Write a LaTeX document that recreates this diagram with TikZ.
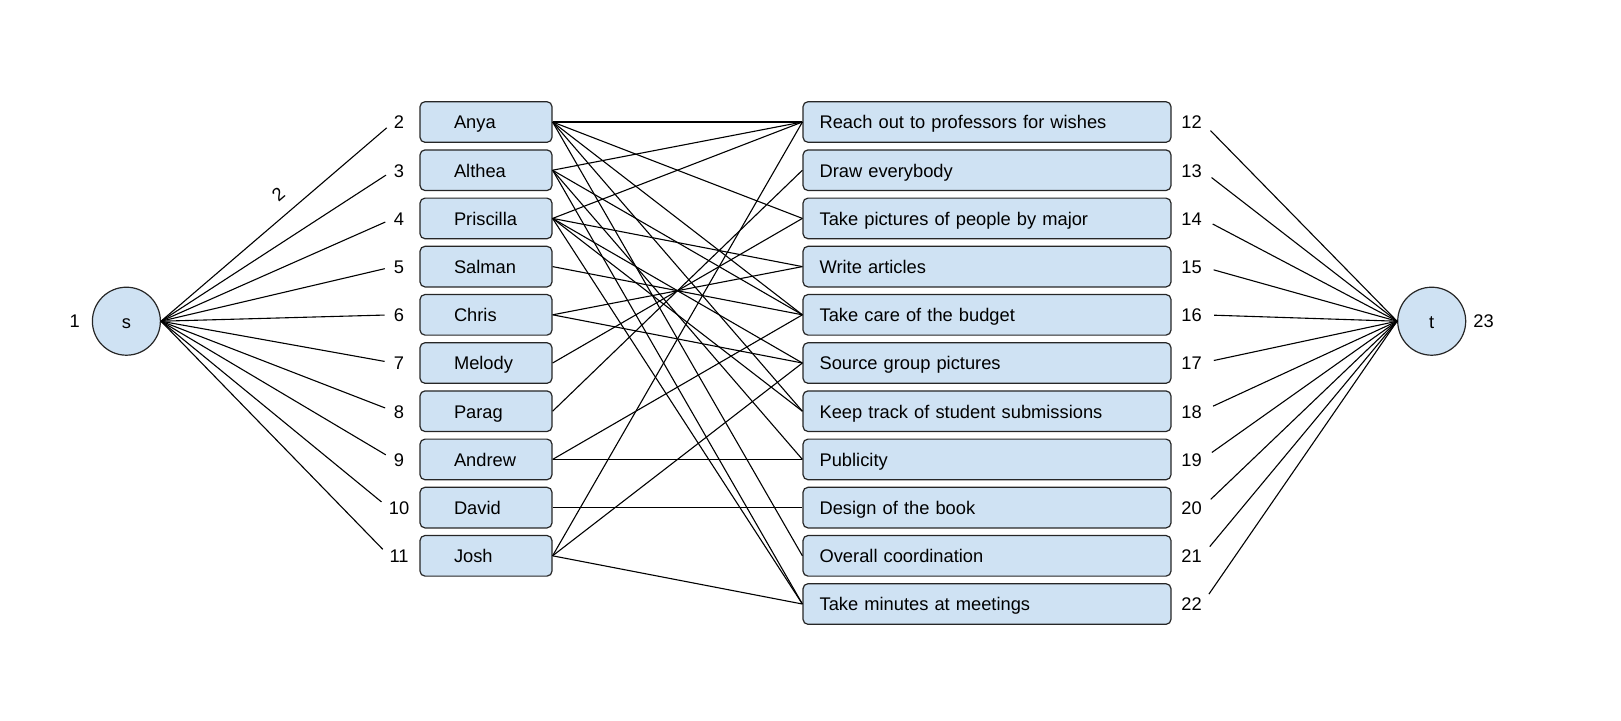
\documentclass[tikz,border=0pt]{standalone}
\usepackage{fontspec}
\setmainfont{Liberation Sans}
\definecolor{boxblue}{HTML}{CFE2F3}
\begin{document}
\begin{tikzpicture}[x=0.5pt,y=-0.5pt,
  every node/.style={font=\fontsize{9.15pt}{11pt}\selectfont, text height=0.905em, text depth=0.212em},
  box/.style={draw=black!85, line width=0.6pt, fill=boxblue, rounded corners=2.5pt,
              minimum height=20.3pt, inner xsep=0pt, align=left},
  pbox/.style={box, minimum width=66pt, text width=32pt},
  tbox/.style={box, minimum width=184pt, text width=167.4pt},
  vert/.style={draw=black!85, line width=0.6pt, fill=boxblue, circle, minimum size=34pt, inner sep=0pt},
  num/.style={inner sep=0pt},
  link/.style={draw=black, line width=0.55pt}]
\useasboundingbox (0,0) rectangle (1621,720);

\node[vert] (s) at (126.4,321.2) {s};
\node[vert] (t) at (1431.7,321.2) {t};
\node[num] (n1) at (74.6,321) {1};
\node[num] (n23) at (1483.6,321) {23};

\foreach \i/\name in {2/Anya,3/Althea,4/Priscilla,5/Salman,6/Chris,7/Melody,8/Parag,9/Andrew,10/David,11/Josh} {
  \node[pbox] (a\i) at (486,{122+48.2*(\i-2)}) {\name};
  \node[num] (n\i) at (399,{122+48.2*(\i-2)}) {\i};
}
\draw[link, shorten >=4.5pt] (s.east) -- node[pos=0.56, sloped, above=1pt] {2} (n2.west);
\foreach \i in {3,...,11}
  \draw[link, shorten >=4.5pt] (s.east) -- (n\i.west);

\foreach \i/\name in {12/Reach out to professors for wishes,13/Draw everybody,14/Take pictures of people by major,15/Write articles,16/Take care of the budget,17/Source group pictures,18/Keep track of student submissions,19/Publicity,20/Design of the book,21/Overall coordination,22/Take minutes at meetings} {
  \node[tbox] (b\i) at (987,{122+48.2*(\i-12)}) {\name};
  \node[num] (n\i) at (1191.5,{122+48.2*(\i-12)}) {\i};
  \draw[link, shorten <=6pt] (n\i.east) -- (t.west);
}

\foreach \a/\b in {2/12,2/14,2/16,2/18,2/21,3/12,3/16,3/19,3/22,4/12,4/15,4/17,4/18,4/22,5/16,6/15,6/17,7/14,8/13,9/16,9/19,10/20,11/12,11/17,11/22}
  \draw[link] (a\a.east) -- (b\b.west);
\end{tikzpicture}
\end{document}
